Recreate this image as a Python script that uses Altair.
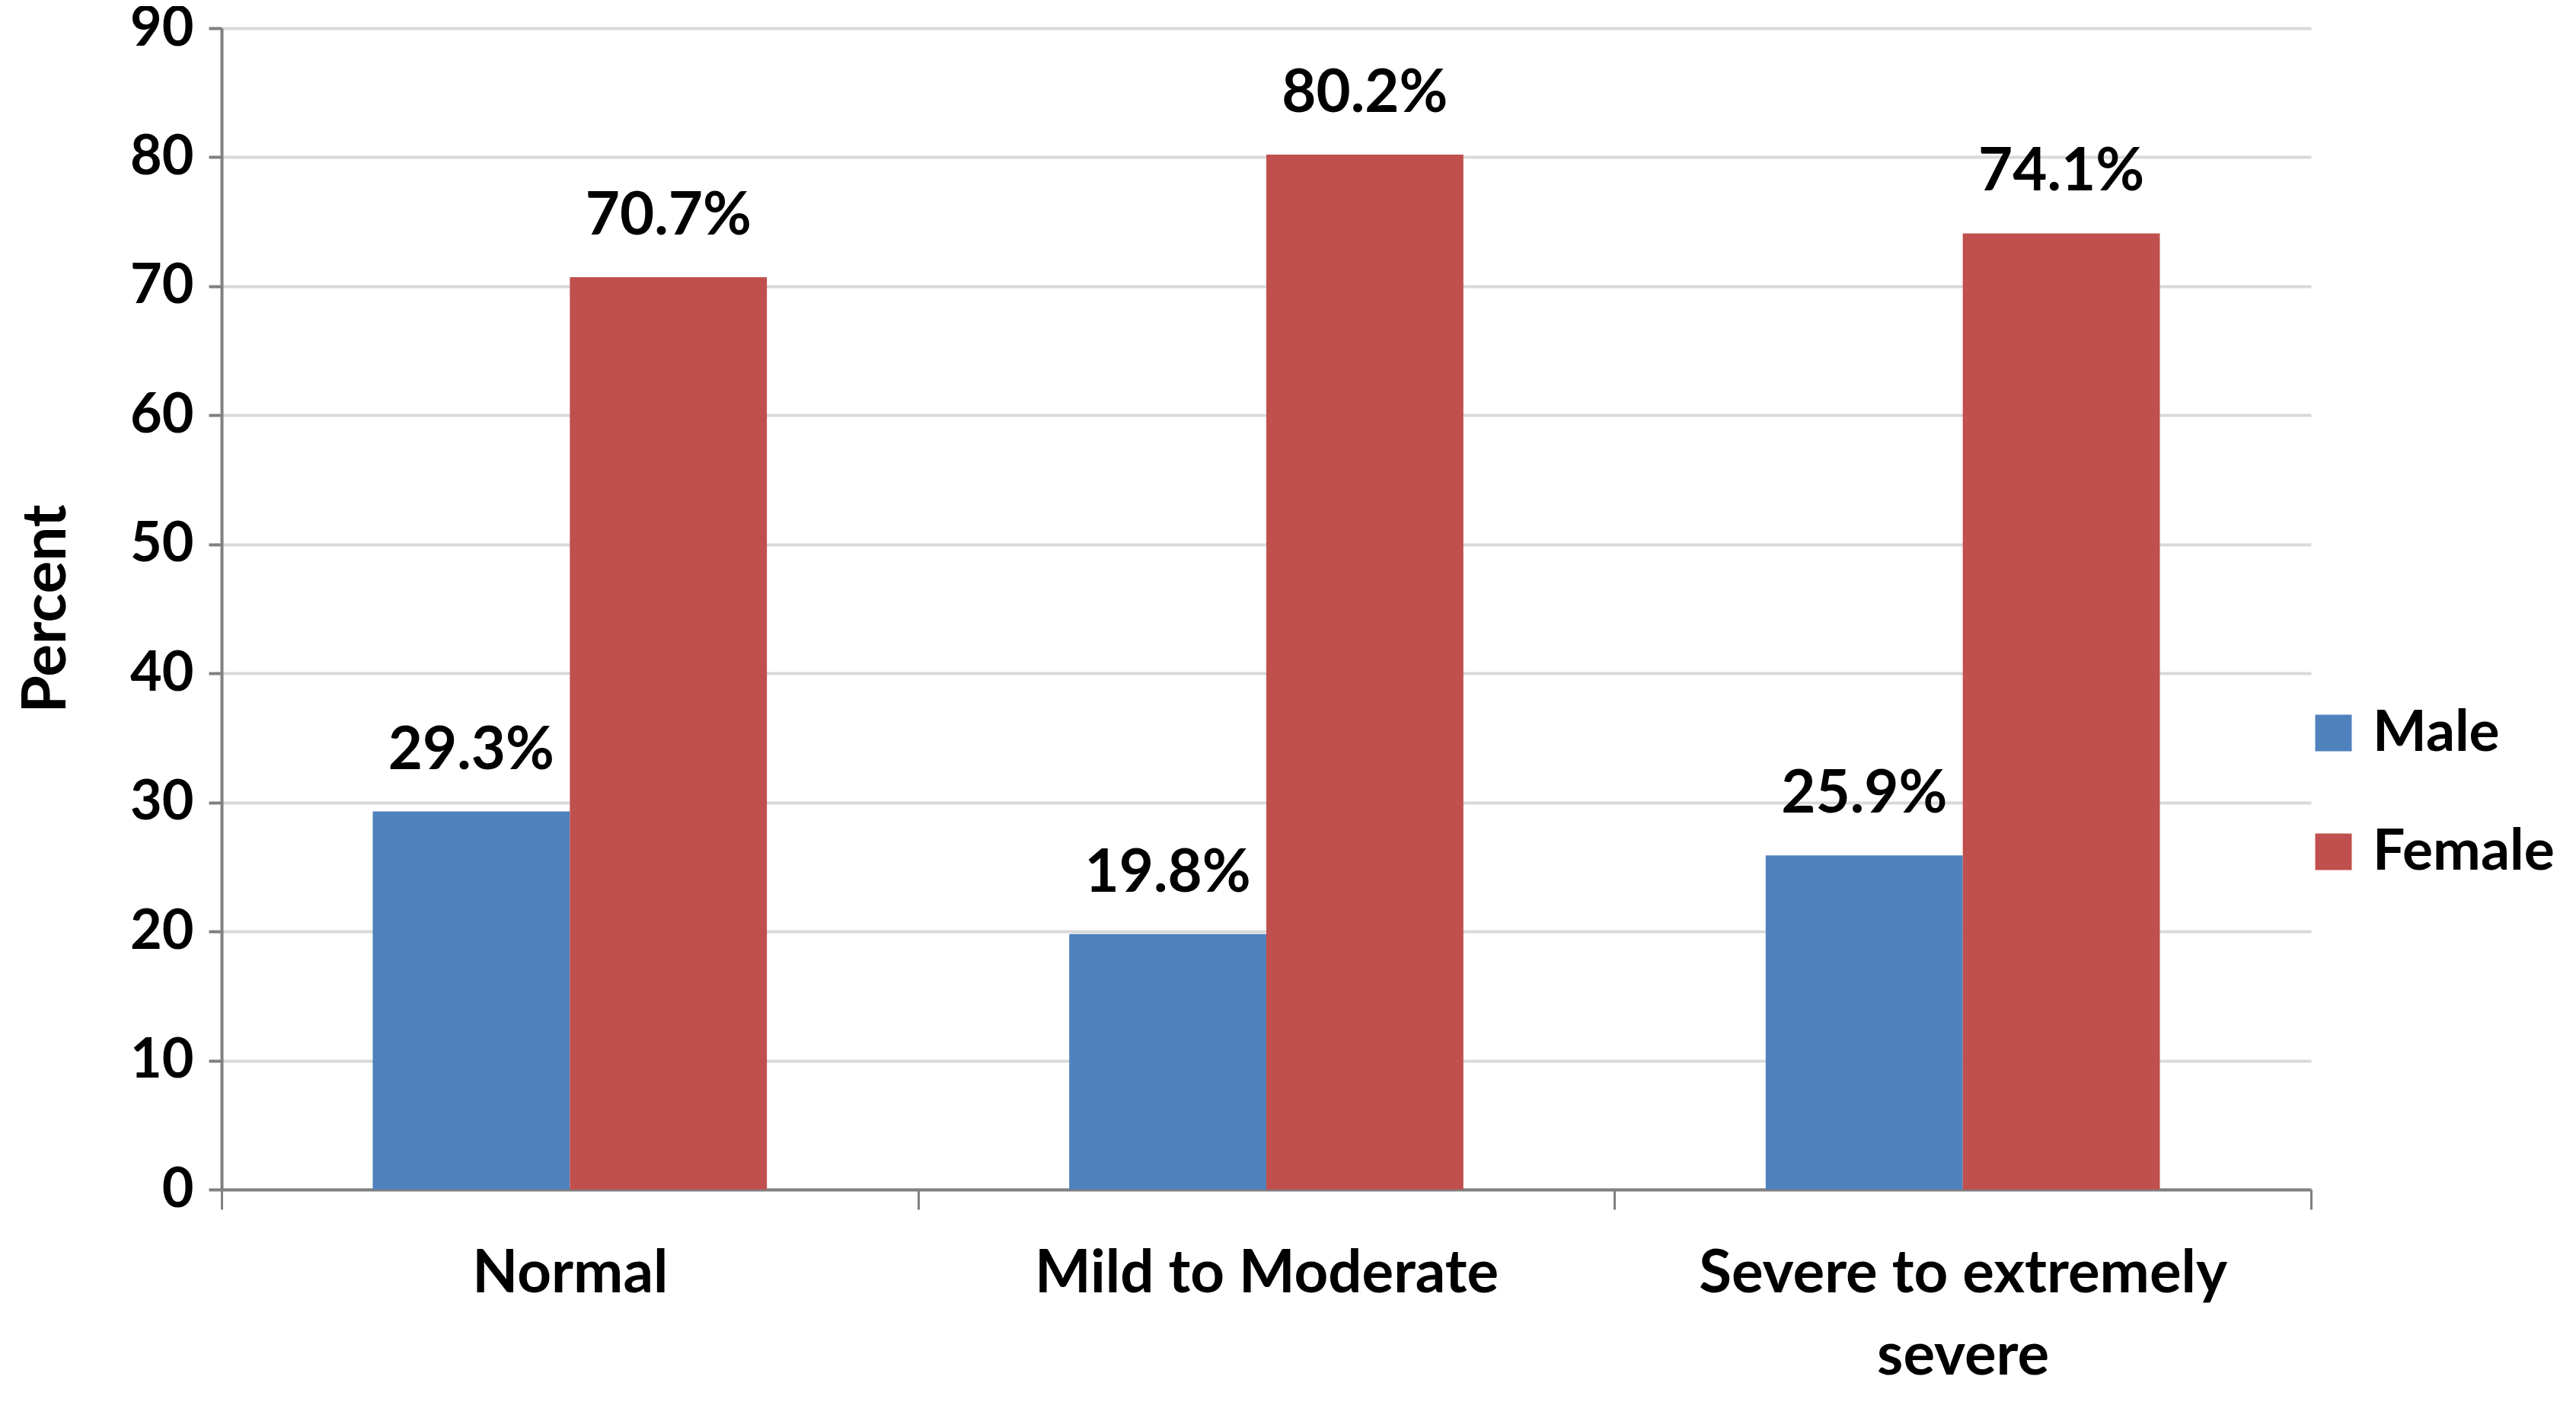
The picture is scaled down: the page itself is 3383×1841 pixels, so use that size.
import altair as alt
import pandas as pd

categories = ["Normal", "Mild to Moderate", "Severe to extremely severe"]
genders = ["Male", "Female"]
male = [29.3, 19.8, 25.9]
female = [70.7, 80.2, 74.1]
y_ticks = [0, 10, 20, 30, 40, 50, 60, 70, 80, 90]
colors = ["#4F81BD", "#C0504D"]

rows = []
for c, m, f in zip(categories, male, female):
    rows.append({"category": c, "gender": "Male", "value": m})
    rows.append({"category": c, "gender": "Female", "value": f})
df = pd.DataFrame(rows)

FONT = "Lato"

base = alt.Chart(df).transform_calculate(
    label="format(datum.value, '.1f') + '%'"
).encode(
    x=alt.X(
        "category:N",
        sort=categories,
        scale=alt.Scale(paddingInner=0, paddingOuter=0),
        axis=alt.Axis(
            title=None,
            labelAngle=0,
            tickBand="extent",
            grid=False,
            domainColor="#808080",
            domainWidth=4,
            tickColor="#808080",
            tickWidth=3,
            tickSize=26,
            labelFont=FONT,
            labelFontSize=78,
            labelFontWeight="bold",
            labelColor="black",
            labelPadding=46,
            labelLineHeight=108,
            labelLimit=2000,
            labelExpr="datum.label == 'Severe to extremely severe' ? ['Severe to extremely', 'severe'] : datum.label",
        ),
    ),
    xOffset=alt.XOffset(
        "gender:N",
        sort=genders,
        scale=alt.Scale(paddingInner=0, paddingOuter=0.767),
    ),
    y=alt.Y(
        "value:Q",
        scale=alt.Scale(domain=[0, 90], nice=False),
        axis=alt.Axis(
            values=y_ticks,
            title="Percent",
            titleFont=FONT,
            titleFontSize=80,
            titleFontWeight="bold",
            titleColor="black",
            titleX=-230,
            titleY=762,
            titleBaseline="middle",
            grid=True,
            gridColor="#D9D9D9",
            gridWidth=4,
            domainColor="#808080",
            domainWidth=4,
            tickColor="#808080",
            tickWidth=4,
            tickSize=17,
            labelFont=FONT,
            labelFontSize=72,
            labelFontWeight="bold",
            labelColor="black",
            labelPadding=20,
        ),
    ),
)

bars = base.mark_bar().encode(
    color=alt.Color(
        "gender:N",
        sort=genders,
        scale=alt.Scale(domain=genders, range=colors),
        legend=alt.Legend(
            title=None,
            orient="none",
            legendX=2736,
            legendY=888,
            symbolType="square",
            symbolSize=2300,
            symbolStrokeWidth=0,
            labelFont=FONT,
            labelFontSize=75,
            labelFontWeight="bold",
            labelColor="black",
            labelOffset=14,
            labelLimit=1000,
            rowPadding=80,
        ),
    )
)

text = base.mark_text(
    baseline="alphabetic",
    dy=-56,
    font=FONT,
    fontSize=78,
    fontWeight="bold",
    color="black",
).encode(text=alt.Text("label:N"))

chart = (
    alt.layer(bars, text)
    .properties(
        width=2744,
        height=1525,
        autosize=alt.AutoSizeParams(type="none"),
        padding={"left": 283, "top": 29, "right": 340, "bottom": 271},
        background="white",
    )
    .configure_view(stroke=None)
)

chart.save("out.html", embed_options={"renderer": "svg", "actions": False})
